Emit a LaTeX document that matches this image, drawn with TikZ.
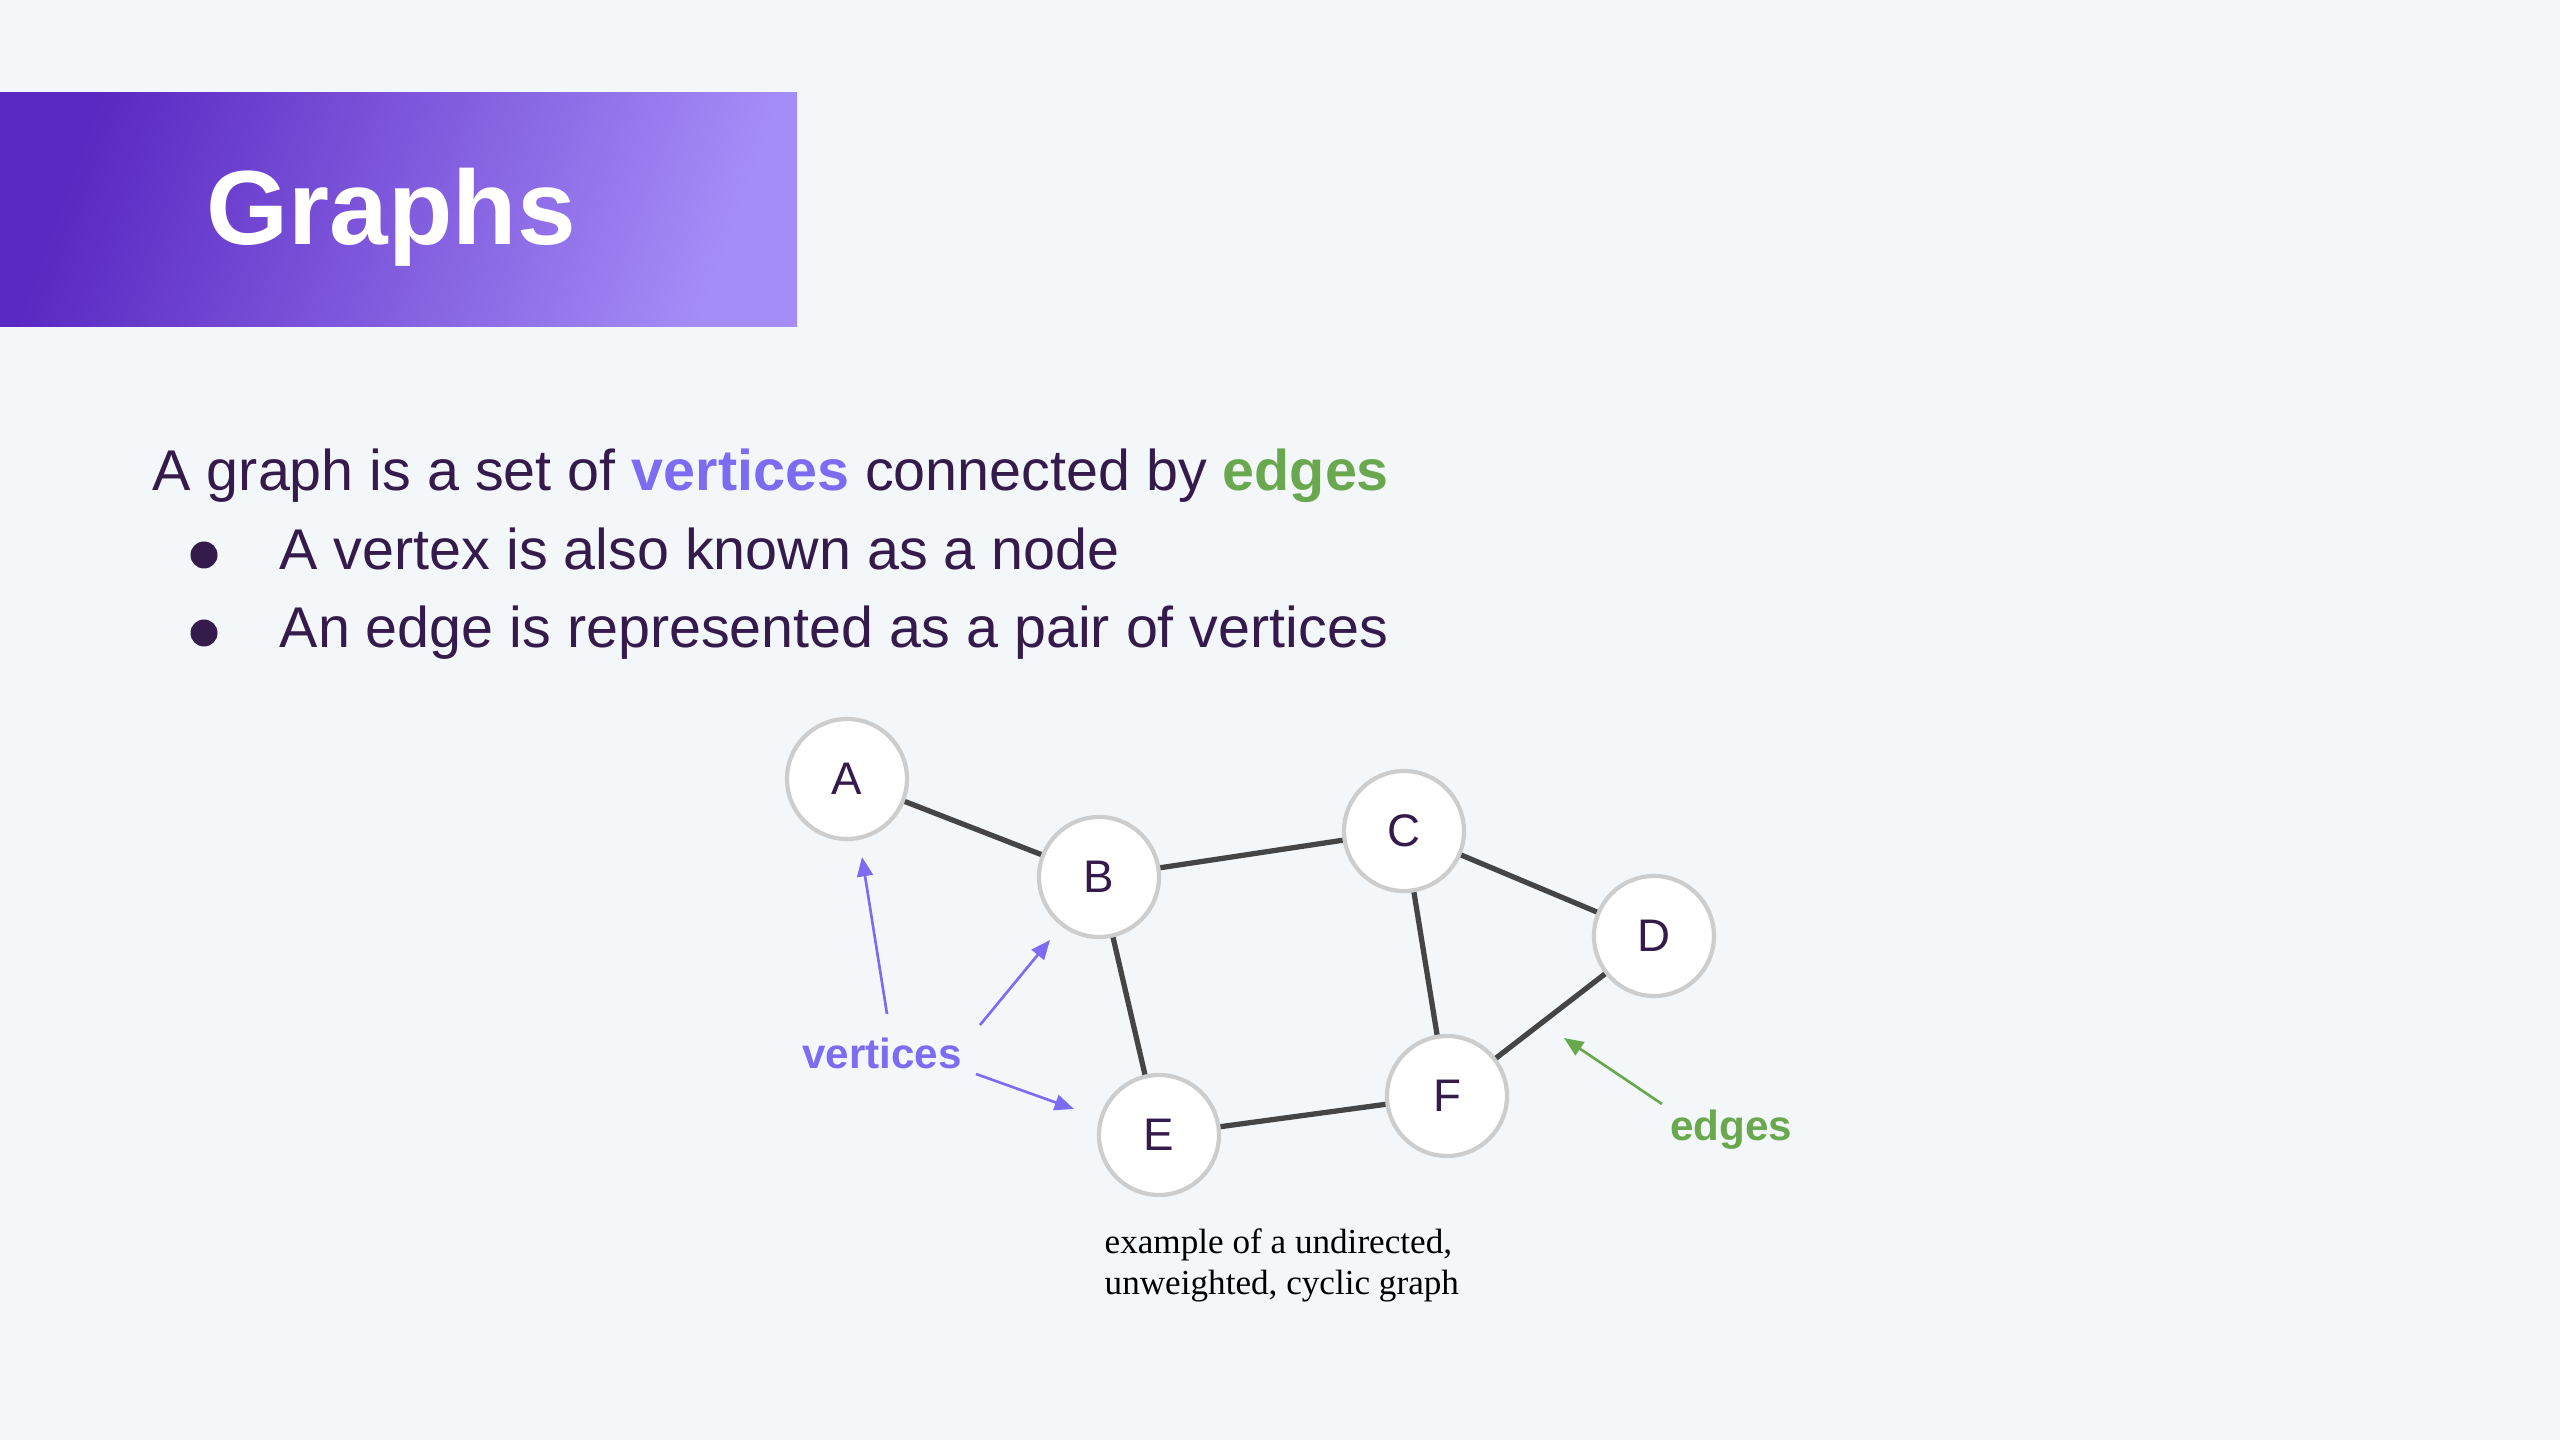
\documentclass[tikz,border=0pt]{standalone}
\usepackage{fontspec}
\setmainfont{Liberation Sans}
\newfontfamily\capfont{Liberation Serif}
\usetikzlibrary{arrows.meta}
\definecolor{bgc}{HTML}{F3F7FA}
\definecolor{txt}{HTML}{341B4B}
\definecolor{vblue}{HTML}{7B6CF2}
\definecolor{egreen}{HTML}{6AA84F}
\definecolor{edgec}{HTML}{454545}
\definecolor{ringc}{HTML}{CDCDCD}
\definecolor{gradl}{HTML}{5A28C2}
\definecolor{gradr}{HTML}{A58DF8}
\tikzset{
  vtx/.style={circle, draw=ringc, line width=1.2pt, fill=white, minimum size=12mm, inner sep=0pt,
    text=txt, font=\fontsize{13}{15}\selectfont},
  gedge/.style={draw=edgec, line width=1.5pt},
  varrow/.style={draw=vblue, line width=0.75pt, -{Triangle[length=5.5pt,width=4.5pt]}},
  garrow/.style={draw=egreen, line width=0.75pt, -{Triangle[length=5.5pt,width=4.5pt]}},
  body/.style={anchor=base west, inner sep=0pt, text=txt, font=\fontsize{16.35}{19}\selectfont},
  bdot/.style={circle, fill=txt, inner sep=0pt, minimum size=2.7mm}
}
\begin{document}
\begin{tikzpicture}[x=0.1mm,y=-0.1mm]
\useasboundingbox (0,0) rectangle (2560,1440);
\fill[bgc] (0,0) rectangle (2560,1440);
% title banner
\shade[left color=gradl, right color=gradr, shading angle=70] (0,93) rectangle (797,327);
\node[anchor=base west, inner sep=0pt, text=white, font=\fontsize{30}{36}\selectfont\bfseries] (title) at (206,245) {Graphs};
% body text
\node[body] (l1) at (152,491) {A graph is a set of \textcolor{vblue}{\bfseries vertices} connected by \textcolor{egreen}{\bfseries edges}};
\node[bdot] (b1) at (204,555) {};
\node[body] (l2) at (279,570) {A vertex is also known as a node};
\node[bdot] (b2) at (204,633) {};
\node[body] (l3) at (279,648) {An edge is represented as a pair of vertices};
% graph
\node[vtx] (A) at (847,779) {A};
\node[vtx] (B) at (1099,877) {B};
\node[vtx] (C) at (1404,831) {C};
\node[vtx] (D) at (1654,936) {D};
\node[vtx] (E) at (1159,1135) {E};
\node[vtx] (F) at (1447,1096) {F};
\path[gedge] (A) -- (B) (B) -- (C) (B) -- (E) (C) -- (D) (C) -- (F) (D) -- (F) (E) -- (F);
% annotations
\node[text=vblue, font=\fontsize{12}{14}\selectfont\bfseries, inner sep=0pt] (vl) at (882,1053) {vertices};
\coordinate (va0) at (887,1014);
\coordinate (va1) at (862,857);
\coordinate (vb0) at (980,1025);
\coordinate (vb1) at (1050,940);
\coordinate (vc0) at (976,1074);
\coordinate (vc1) at (1074,1109);
\draw[varrow] (va0) -- (va1);
\draw[varrow] (vb0) -- (vb1);
\draw[varrow] (vc0) -- (vc1);
\node[text=egreen, font=\fontsize{12}{14}\selectfont\bfseries, inner sep=0pt] (el) at (1731,1130) {edges};
\coordinate (ga0) at (1662,1104);
\coordinate (ga1) at (1564,1038);
\draw[garrow] (ga0) -- (ga1);
% caption
\node[anchor=base west, inner sep=0pt, align=left, font=\capfont\fontsize{10}{11.7}\selectfont, text=black] (cap) at (1104,1295) {example of a undirected,\\unweighted, cyclic graph};
\end{tikzpicture}
\end{document}
